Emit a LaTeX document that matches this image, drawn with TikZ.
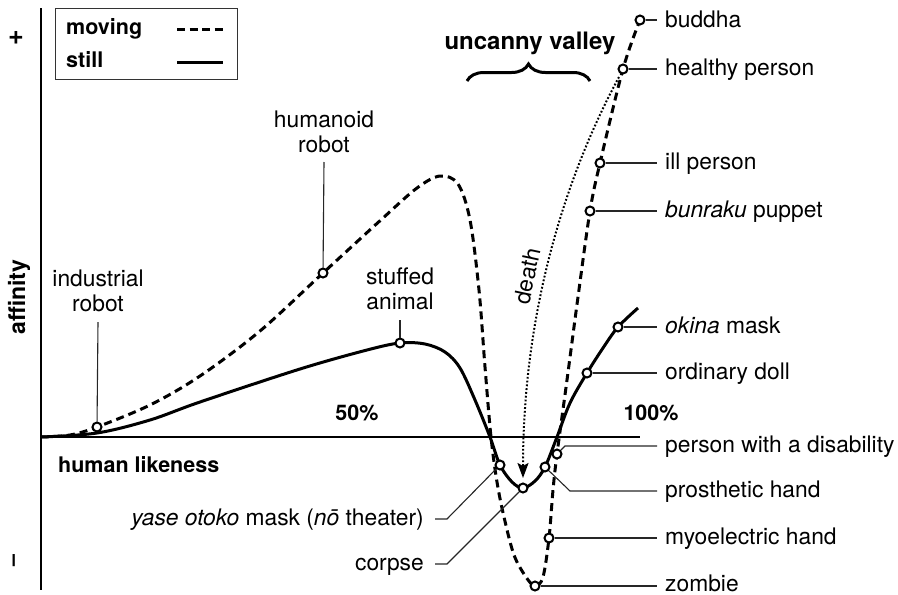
\documentclass[tikz,border=0pt]{standalone}
\usepackage{fontspec}
\setmainfont{TeX Gyre Heros}
\usetikzlibrary{decorations.pathreplacing,arrows.meta}
\begin{document}
\begin{tikzpicture}[x=1pt,y=-1pt,
  lbl/.style={font=\fontsize{22.8}{25}\selectfont, inner sep=0pt, align=center},
  blbl/.style={font=\fontsize{21.5}{25}\selectfont\bfseries, inner sep=0pt},
  pt/.style={circle, draw=black, fill=white, line width=2pt, minimum size=9pt, inner sep=0pt},
  lead/.style={line width=1.1pt, black!85},
  movingc/.style={line width=3pt, dash pattern=on 8pt off 5pt},
  stillc/.style={line width=3pt},
  axisline/.style={line width=2pt},
  deathc/.style={line width=2pt, dash pattern=on 1.8pt off 2pt, -{Stealth[length=15pt,width=11pt,inset=3pt]}}]
\useasboundingbox (0,0) rectangle (898,595);

% axes
\coordinate (ytop) at (41,8);
\coordinate (ybot) at (41,590);
\coordinate (orig) at (41,437);
\coordinate (xend) at (640,437);
\draw[axisline] (ytop) -- (ybot);
\draw[axisline] (orig) -- (xend);

% axis texts
\node[font=\fontsize{27}{30}\selectfont\bfseries, inner sep=0pt] (plus) at (16,38) {+};
\node[blbl, rotate=90] (minus) at (16,561) {–};
\node[font=\fontsize{23}{26}\selectfont\bfseries, inner sep=0pt, rotate=90] (aff) at (19,297) {affinity};
\node[blbl, anchor=base west] (hl) at (58,472) {human likeness};
\node[blbl, anchor=base] (p50) at (357,420) {50\%};
\node[blbl, anchor=base] (p100) at (651,420) {100\%};

% legend
\node[draw=black!80, line width=0.9pt, minimum width=182pt, minimum height=71pt, inner sep=0pt, anchor=north west] (legend) at (55,8) {};
\node[blbl, anchor=base west] (lmov) at (66,34) {moving};
\node[blbl, anchor=base west] (lstill) at (66,67) {still};
\coordinate (lm1) at (177,29); \coordinate (lm2) at (223,29);
\coordinate (ls1) at (177,62); \coordinate (ls2) at (223,62);
\draw[line width=3pt, dash pattern=on 8pt off 4.5pt] (lm1) -- (lm2);
\draw[stillc] (ls1) -- (ls2);

% uncanny valley
\node[font=\fontsize{24}{28}\selectfont\bfseries, inner sep=0pt, anchor=base] (uv) at (530,49) {uncanny valley};
\coordinate (br1) at (467,81); \coordinate (br2) at (590,81);
\draw[line width=3pt, decorate, decoration={brace, amplitude=17pt}] (br1) -- (br2);

% curves
\draw[movingc] plot[smooth, tension=0.55] coordinates {
 (41,437) (70,435) (97,427) (150,405) (200,376) (260,331) (323,273) (383,218) (417,188) (440,176) (458,184) (470,220) (479,290) (485,367) (491,437) (497,482) (504,517) (514,555) (526,577) (535,586) (543,577) (549,538) (553,490) (557,454) (567,380) (578,297) (590,211) (600,163) (623,69) (640,20)};
\draw[stillc] plot[smooth, tension=0.55] coordinates {
 (41,437) (97,433) (150,420) (200,402) (300,369) (367,350) (400,343) (425,344) (445,352) (460,368) (475,400) (490,437) (500,465) (512,482) (523,488) (535,481) (545,467) (557,437) (570,403) (587,373) (603,348) (618,327) (638,308)};

% death
\coordinate (dstart) at (619,77);
\coordinate (dend) at (523,478);
\draw[deathc] (dstart) .. controls (566,175) and (523,310) .. (dend);
\node[lbl, rotate=78] (tdeath) at (527,276) {death};

% points
\node[pt] (cind) at (97,427) {};
\node[pt] (chum) at (323,273) {};
\node[pt] (cstf) at (400,343) {};
\node[pt] (cyase) at (500,465) {};
\node[pt] (ccor) at (523,488) {};
\node[pt] (cpro) at (545,467) {};
\node[pt] (cpwd) at (557,454) {};
\node[pt] (cmyo) at (549,538) {};
\node[pt] (czom) at (535,586) {};
\node[pt] (cdoll) at (587,373) {};
\node[pt] (cokn) at (618,327) {};
\node[pt] (cbun) at (590,211) {};
\node[pt] (cill) at (600,163) {};
\node[pt] (chp) at (623,69) {};
\node[pt] (cbud) at (640,20) {};

% top labels
\node[lbl, anchor=south] (tind) at (98,312) {industrial\\robot};
\node[lbl, anchor=south] (thum) at (324,153) {humanoid\\robot};
\node[lbl, anchor=south] (tstf) at (400,310) {stuffed\\animal};
\draw[lead] ([yshift=-10pt]tind.south) -- (cind);
\draw[lead] ([yshift=-9pt]thum.south) -- (chum);
\draw[lead] ([yshift=-10pt]tstf.south) -- (cstf);

% right labels (baseline = leader + 6.5)
\node[lbl, anchor=base west] (tbud) at (665,27.5) {buddha};
\node[lbl, anchor=base west] (thp) at (665,75.5) {healthy person};
\node[lbl, anchor=base west] (till) at (665,169.5) {ill person};
\node[lbl, anchor=base west] (tbun) at (665,217.5) {\itshape bunraku\upshape{} puppet};
\node[lbl, anchor=base west] (tokn) at (665,333.5) {\itshape okina\upshape{} mask};
\node[lbl, anchor=base west] (tdoll) at (665,379.5) {ordinary doll};
\node[lbl, anchor=base west] (tpwd) at (665,452.5) {person with a disability};
\node[lbl, anchor=base west] (tpro) at (665,497.5) {prosthetic hand};
\node[lbl, anchor=base west] (tmyo) at (665,544.5) {myoelectric hand};
\node[lbl, anchor=base west] (tzom) at (665,591.5) {zombie};
\draw[lead] (cbud) -- ([xshift=-8pt]tbud.west |- cbud);
\draw[lead] (chp) -- ([xshift=-8pt]thp.west |- chp);
\draw[lead] (cill) -- ([xshift=-8pt]till.west |- cill);
\draw[lead] (cbun) -- ([xshift=-8pt]tbun.west |- cbun);
\draw[lead] (cokn) -- ([xshift=-8pt]tokn.west |- cokn);
\draw[lead] (cdoll) -- ([xshift=-8pt]tdoll.west |- cdoll);
\draw[lead] (cpwd) -- ([xshift=-100pt,yshift=6.5pt]tpwd.base west) -- ([xshift=-8pt,yshift=6.5pt]tpwd.base west);
\draw[lead] (cpro) -- ([xshift=-95pt,yshift=6.5pt]tpro.base west) -- ([xshift=-8pt,yshift=6.5pt]tpro.base west);
\draw[lead] (cmyo) -- ([xshift=-8pt]tmyo.west |- cmyo);
\draw[lead] (czom) -- ([xshift=-8pt]tzom.west |- czom);

% left labels
\node[lbl, anchor=base east] (tyase) at (424,525.5) {\itshape yase otoko\upshape{} mask (\itshape nō\upshape{} theater)};
\node[lbl, anchor=base east] (tcor) at (424,570.5) {corpse};
\draw[lead] ([xshift=11pt,yshift=6.5pt]tyase.base east) -- ([xshift=23pt,yshift=6.5pt]tyase.base east) -- (cyase);
\draw[lead] ([xshift=11pt,yshift=6.5pt]tcor.base east) -- ([xshift=23pt,yshift=6.5pt]tcor.base east) -- (ccor);
\end{tikzpicture}
\end{document}
